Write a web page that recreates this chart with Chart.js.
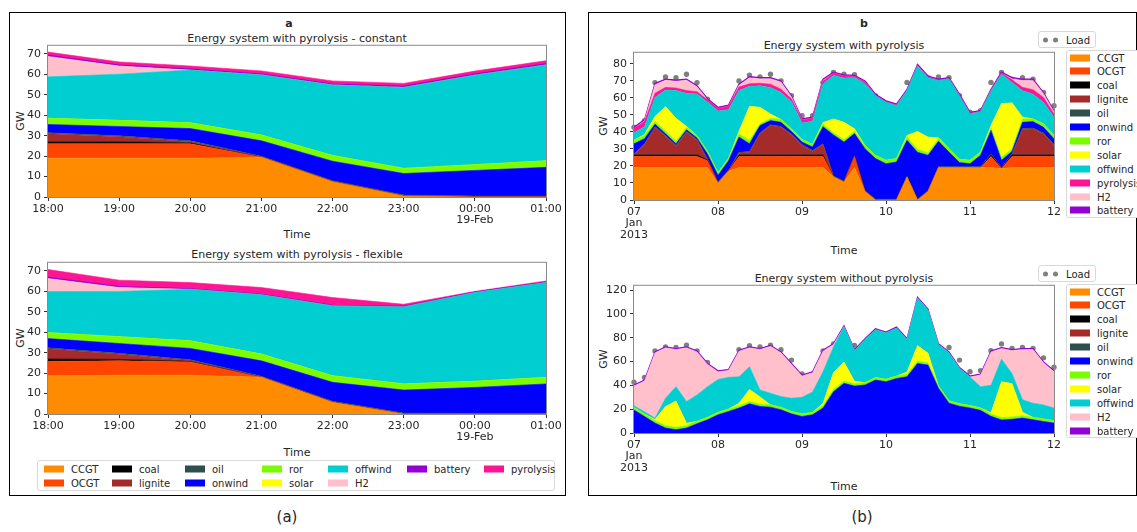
<!DOCTYPE html>
<html lang="en">
<head>
<meta charset="UTF-8">
<title>Energy system with pyrolysis</title>
<script src="https://cdn.jsdelivr.net/npm/chart.js"></script>
<style>
  body { margin:0; width:1137px; height:532px; background:#fff; overflow:hidden; position:relative;
         font-family:"DejaVu Sans", sans-serif; color:#262626; }
  .box { position:absolute; border:1.5px solid #000; box-sizing:border-box; }
  .txt { position:absolute; white-space:nowrap; transform:translate(-50%,-50%); font-size:11px; }
  .ylab { transform:translate(-50%,-50%) rotate(-90deg); }
  canvas { position:absolute; }
  .legend { position:absolute; border:1px solid #d9d9d9; border-radius:3px; background:#fff; font-size:10px; box-sizing:border-box; }
  .item { position:absolute; display:flex; align-items:center; transform:translateY(-50%); white-space:nowrap; }
  .sw { display:inline-block; width:20px; height:7px; margin-right:7px; }
  .dot { display:inline-block; width:5px; height:5px; border-radius:50%; background:#7f7f7f; margin-right:5px; }
</style>
</head>
<body>
<div class="box" style="left:9px;top:12px;width:557px;height:484px;"></div>
<div class="box" style="left:588px;top:12px;width:549px;height:484px;"></div>

<div class="txt" style="left:289px;top:23px;font-weight:bold;">a</div>
<div class="txt" style="left:297px;top:38px;">Energy system with pyrolysis - constant</div>
<div class="txt" style="left:297px;top:254px;">Energy system with pyrolysis - flexible</div>
<div class="txt ylab" style="left:20px;top:121px;">GW</div>
<div class="txt ylab" style="left:20px;top:338px;">GW</div>
<div class="txt" style="left:297px;top:234px;">Time</div>
<div class="txt" style="left:297px;top:452px;">Time</div>

<div class="txt" style="left:864px;top:23px;font-weight:bold;">b</div>
<div class="txt" style="left:844px;top:45px;">Energy system with pyrolysis</div>
<div class="txt" style="left:844px;top:278px;">Energy system without pyrolysis</div>
<div class="txt ylab" style="left:603px;top:126px;">GW</div>
<div class="txt ylab" style="left:603px;top:359px;">GW</div>
<div class="txt" style="left:844px;top:250px;">Time</div>
<div class="txt" style="left:844px;top:486px;">Time</div>

<div class="txt" style="left:287px;top:517px;font-size:15px;">(a)</div>
<div class="txt" style="left:862px;top:517px;font-size:15px;">(b)</div>

<canvas id="cConst"></canvas>
<canvas id="cFlex"></canvas>
<canvas id="cPyr"></canvas>
<canvas id="cNoPyr"></canvas>

<script>
// ---- (a) hourly, 18 Feb 18:00 -> 19 Feb 01:00
const hoursA = ['18:00', '19:00', '20:00', '21:00', '22:00', '23:00', ['00:00', '19-Feb'], '01:00'];

const cstCCGT      = [19, 19, 19, 19.5, 7.5, 0.5, 0, 0];
const cstOCGT      = [7, 7, 7, 0, 0, 0, 0, 0];
const cstCoal      = [1, 1, 0.5, 0, 0, 0, 0, 0];
const cstLignite   = [4, 2.5, 0.5, 0, 0, 0, 0, 0];
const cstOil       = [0.5, 0.5, 0.5, 0.5, 0.5, 0.5, 0.5, 0.5];
const cstOnwind    = [4, 4.5, 6, 7.5, 9.5, 10.5, 12.5, 14];
const cstRor       = [3, 3, 2.8, 2.8, 2.8, 2.5, 2.8, 3.2];
const cstSolar     = [0, 0, 0, 0, 0, 0, 0, 0];
const cstOffwind   = [20.3, 22.6, 25.8, 29.4, 34.5, 39.6, 43.8, 46.9];
const cstH2        = [10, 4, 0, 0, 0, 0, 0, 0];
const cstBattery   = [0.5, 0.5, 0.5, 0.5, 0.5, 0.5, 0.5, 0.5];
const cstPyrolysis = [1.6, 1.5, 1.5, 1.5, 1.5, 1.5, 1.5, 1.6];

const flxCCGT      = [18.7, 19, 19, 18, 5.7, 0, 0, 0];
const flxOCGT      = [7, 7, 6.5, 0, 0, 0, 0, 0];
const flxCoal      = [1.2, 0.7, 0.3, 0, 0, 0, 0, 0];
const flxLignite   = [5, 2.5, 0.3, 0, 0, 0, 0, 0];
const flxOil       = [0.5, 0.5, 0.5, 0.5, 0.5, 0.5, 0.3, 0.3];
const flxOnwind    = [4.5, 4.8, 5.5, 7.5, 9.3, 11.2, 12.7, 14.4];
const flxRor       = [2.9, 3.3, 3.7, 3.3, 3.2, 3, 3, 3.2];
const flxSolar     = [0, 0, 0, 0, 0, 0, 0, 0];
const flxOffwind   = [20.1, 22.2, 25.2, 29, 34.2, 37.7, 43.4, 46.4];
const flxH2        = [6.4, 1.9, 0, 0, 0, 0, 0, 0];
const flxBattery   = [0.6, 0.5, 0.3, 0.3, 0.3, 0.3, 0.2, 0.2];
const flxPyrolysis = [3.8, 3.1, 3, 3.3, 3.8, 1, 0.4, 0.6];

// ---- (b) 3-hourly, 07 Jan 2013 00:00 -> 12 Jan 00:00
const stepsB = Array.from({ length: 41 }, (_, i) => i * 3);
const dayTicks = [['07', 'Jan', '2013'], '08', '09', '10', '11', '12'];

const load = [42.7, 46.6, 68.9, 72.2, 71.8, 73.8, 68.9, 59.2, 49.5, 49.5,
  69.9, 73.2, 72.2, 73.8, 69.9, 61.2, 49.5, 49.5, 68.9, 74.8,
  73.8, 73.6, 68, 61.2, 48.5, 49, 69, 70.9, 71.8, 72.2,
  71.8, 61.2, 51.5, 52.4, 69, 74.8, 70.9, 71.8, 70.9, 63.1, 55.3];

const pyrCCGT = [19, 19, 19, 19, 19, 19, 19, 19, 10, 17,
  19, 19, 19, 19, 19, 19, 19, 19, 19, 13.6,
  10.5, 19, 5, 0, 0, 0, 13.5, 0, 5, 19,
  19, 19, 19, 19, 19, 18.5, 19, 19, 19, 19, 19];
const pyrOCGT = [6.5, 6.5, 6.5, 6.5, 6.5, 6.5, 6.5, 4, 0, 0,
  6.5, 6.5, 6.5, 6.5, 6.5, 6.5, 6.5, 6.5, 6.5, 0,
  0, 6.5, 0, 0, 0, 0, 0, 0, 0, 0,
  0, 0, 0, 0, 6.5, 0, 6.5, 6.5, 6.5, 6.5, 6.5];
const pyrCoal = [1, 1, 1, 1, 1, 1, 1, 0.5, 0, 0,
  1, 1, 1, 1, 1, 1, 1, 1, 1, 0,
  0, 0, 0, 0, 0, 0, 0, 0, 0, 0,
  0, 0, 0, 0, 1, 0, 1, 1, 1, 1, 1];
const pyrLignite = [0, 6, 16, 10.9, 5, 13.2, 8.5, 0, 0, 0,
  1, 1.5, 12.3, 17.2, 16.2, 11.7, 5.5, 2, 6, 0,
  0, 0, 0, 0, 0, 0, 0, 0, 0, 0,
  0, 0, 0, 0, 0, 0, 0, 15, 15.2, 12.3, 5.5];
const pyrOil = [0.5, 0.5, 0.5, 0.5, 0.5, 0.5, 0.5, 0.5, 0.5, 0.5,
  0.5, 0.5, 0.5, 0.5, 0.5, 0.5, 0.5, 0.5, 0.5, 0.5,
  0.5, 0.5, 0.5, 0.5, 0.5, 0.5, 0.5, 0.5, 0.5, 0.5,
  0.5, 0.5, 0.5, 0.5, 0.5, 0.5, 0.5, 0.5, 0.5, 0.5, 0.5];
const pyrOnwind = [6, 3, 1.5, 1, 1, 1, 0.9, 3, 4, 5.5,
  8.9, 4.5, 4.4, 2.4, 2.4, 1.5, 1.5, 2.1, 10, 24.1,
  23, 13, 24.6, 23.8, 20.8, 21.8, 21, 27.5, 20.7, 15,
  8.6, 2.5, 1.8, 6.7, 13.8, 4.3, 1.5, 3.6, 3.8, 3.4, 3.4];
const pyrRor = [2, 2, 1.5, 1.6, 1.5, 1.4, 1.3, 1.5, 1.5, 1.5,
  1.9, 2, 1, 1.4, 1.6, 1.5, 1.5, 1.6, 1.5, 1.2,
  1.3, 1.3, 1.9, 1.9, 2, 2, 1.9, 1.8, 1.6, 1.5,
  2, 1.9, 2, 1.9, 1.4, 1.8, 1.5, 2, 1.6, 2, 2];
const pyrSolar = [0, 0.5, 3, 14.3, 13.5, 0.6, 0, 0, 0, 0,
  1.5, 20, 9.7, 2.5, 0, 0, 0, 0, 1, 8.2,
  10.3, 1.5, 0, 0, 0, 0, 1, 10.4, 9.1, 0.5,
  0, 0, 0, 0, 1.5, 31.5, 27, 1, 0, 0, 0];
const pyrOffwind = [4.5, 4.5, 11.2, 9.7, 16.2, 19.4, 24.5, 29, 36.2, 28.5,
  24, 11.7, 12.6, 15.5, 15.9, 16, 9.7, 13.5, 22.7, 25.5,
  26, 30, 36.3, 35, 34, 31, 26.4, 38.4, 34.9, 33.5,
  41, 37.2, 27.2, 23.7, 20.2, 17.2, 12, 15.5, 14.5, 12.6, 10.6];
const pyrPyrolysis = [2.5, 3, 2.5, 1.6, 1.5, 1.6, 1.4, 1.3, 1.5, 2,
  2, 1.5, 1.5, 2, 1.9, 1.5, 1.7, 1.8, 1.5, 1.3,
  1.1, 0.7, 0.9, 0.2, 0.2, 0.3, 0, 0.3, 0.3, 0.2,
  0, 0.3, 0.3, 0, 0.4, 0.6, 1.5, 2, 2.6, 2.9, 2];
const pyrH2 = [0, 0.5, 5, 4.2, 4, 6.1, 2.8, 0, 0, 0,
  1, 3.5, 2.6, 3.1, 4.2, 1.3, 0, 0, 0.5, 0,
  0, 0, 0, 0, 0, 0, 0, 0, 0, 0,
  0, 0, 0, 0, 0, 0, 0.6, 4.1, 5.5, 2.2, 1.2];
const pyrBattery = [0.7, 0.7, 0.7, 0.7, 0.7, 0.7, 0.7, 0.7, 0.7, 0.7,
  0.7, 0.7, 0.7, 0.7, 0.7, 0.7, 0.7, 0.7, 0.7, 0.7,
  0.7, 0.7, 0.7, 0.7, 0.7, 0.7, 0.7, 0.7, 0.7, 0.7,
  0.7, 0.7, 0.7, 0.7, 0.7, 0.7, 0.7, 0.7, 0.7, 0.7, 0.7];

const nopOnwind = [19.4, 13.9, 8.3, 4.2, 2.8, 4.2, 7.8, 11.1, 15.3, 18.1,
  20.9, 24.5, 22.3, 21.7, 19.5, 16.1, 13.9, 15.3, 20.9, 34.7,
  41.7, 39.4, 40.3, 44.5, 43.1, 45.8, 47.2, 58.4, 57, 37.5,
  25, 22.5, 21, 19, 14, 11, 11.5, 12.5, 11.1, 9.7, 8.3];
const nopRor = [2, 2, 2, 2, 2, 2, 2, 2, 2, 2,
  2, 2, 2, 2, 2, 2, 2, 2, 2, 2,
  2, 2, 2, 2, 2, 2, 2, 2, 2, 2,
  2, 2, 2, 2, 2, 2, 2, 2, 2, 2, 2];
const nopSolar = [0, 0, 1, 16, 22, 2, 0, 0, 0, 0,
  2, 10, 6, 0, 0, 0, 0, 0, 2, 14,
  16, 2, 0, 0, 0, 0, 2, 13, 8, 0,
  0, 0, 0, 0, 1, 30, 28, 3, 0, 0, 0];
const nopOffwind = [1.4, 2, 1.2, 7, 12.1, 18.2, 22.1, 25.8, 27.7, 26.6,
  22.3, 19.1, 5.8, 9.7, 9.1, 11.1, 14.1, 17.1, 26.5, 21.6,
  29.5, 25.8, 36.1, 40.2, 38.8, 40.3, 27.2, 39.8, 36.2, 34.7,
  40.3, 29.7, 24, 17.9, 23, 19, 8.5, 10.5, 11.9, 11.9, 10.6];
const nopH2 = [16.7, 25.8, 54.8, 42.3, 31.2, 45.1, 36.2, 18.7, 6.4, 5.8,
  21.5, 15.9, 34, 39.4, 36.7, 28.4, 17.8, 16.2, 17.3, 1.9,
  0, 0, 0, 0, 0, 0, 0, 0, 0, 0,
  0, 0, 0, 9.8, 28.1, 8.9, 19.2, 42.1, 45.1, 35.3, 30.5];
const nopBattery = [0.8, 0.8, 0.8, 0.8, 0.8, 0.8, 0.8, 0.8, 0.8, 0.8,
  0.8, 0.8, 0.8, 0.8, 0.8, 0.8, 0.8, 0.8, 0.8, 0.8,
  0.8, 0.8, 0.8, 0.8, 0.8, 0.8, 0.8, 0.8, 0.8, 0.8,
  0.8, 0.8, 0.8, 0.8, 0.8, 0.8, 0.8, 0.8, 0.8, 0.8, 0.8];

const colors = {
  CCGT: '#ff8c00', OCGT: '#ff4500', coal: '#000000', lignite: '#a52a2a', oil: '#2f4f4f',
  onwind: '#0000ff', ror: '#7cfc00', solar: '#ffff00', offwind: '#00ced1',
  H2: '#ffc0cb', battery: '#9400d3', pyrolysis: '#ff1493'
};

// canvas margins around each plot area
const Y_W = 40, PAD_T = 8, PAD_R = 26, X_H = 46;
const FONT = { family: 'DejaVu Sans', size: 11, lineHeight: 1.05 };

const frame = {
  id: 'frame',
  afterDatasetsDraw(chart) {
    const a = chart.chartArea, c = chart.ctx;
    c.save();
    c.strokeStyle = '#8a8a8a';
    c.lineWidth = 1;
    c.strokeRect(a.left - 0.5, a.top - 0.5, a.right - a.left + 1, a.bottom - a.top + 1);
    c.restore();
  }
};

function drawStack(id, plot, labels, series, yMax, yStep, extra) {
  extra = extra || {};
  const cv = document.getElementById(id);
  cv.width = plot.r - plot.l + Y_W + PAD_R;
  cv.height = PAD_T + plot.b - plot.t + X_H;
  cv.style.left = (plot.l - Y_W) + 'px';
  cv.style.top = (plot.t - PAD_T) + 'px';

  const datasets = series.map(([name, data], i) => ({
    label: name, data,
    backgroundColor: colors[name], borderColor: colors[name],
    borderWidth: name === 'battery' ? 1.2 : 0.6,
    pointRadius: 0, tension: 0,
    fill: i ? '-1' : 'origin'
  }));
  if (extra.load) {
    datasets.push({
      label: 'Load', data: extra.load, stack: 'load', showLine: false, fill: false,
      pointRadius: 2.7, pointBackgroundColor: '#7f7f7f', pointBorderWidth: 0
    });
  }

  const ticksGrid = { drawOnChartArea: false, drawTicks: true, tickLength: 4, tickColor: '#333', color: '#333' };

  new Chart(cv, {
    type: 'line',
    data: { labels, datasets },
    plugins: [frame],
    options: {
      responsive: false, animation: false, events: [],
      layout: { padding: { top: PAD_T, right: PAD_R, left: 0, bottom: 0 } },
      plugins: { legend: { display: false }, tooltip: { enabled: false } },
      scales: {
        x: {
          type: 'category', offset: false,
          grid: ticksGrid, border: { display: false },
          ticks: {
            autoSkip: false, maxRotation: 0, padding: 2, color: '#262626', font: FONT,
            callback: extra.tickLabel || function (v) { return this.getLabelForValue(v); }
          },
          afterBuildTicks: s => { if (extra.tickEvery) s.ticks = s.ticks.filter(t => t.value % extra.tickEvery === 0); },
          afterFit: s => { s.height = X_H; }
        },
        y: {
          stacked: true, min: 0, max: yMax,
          grid: ticksGrid, border: { display: false },
          ticks: { stepSize: yStep, padding: 3, color: '#262626', font: FONT },
          // keep only the round ticks (0, step, 2*step ...) below the axis top
          afterBuildTicks: s => {
            const t = [];
            for (let v = 0; v <= yMax; v += yStep) t.push({ value: v });
            s.ticks = t;
          },
          afterFit: s => { s.width = Y_W; }
        }
      }
    }
  });
}

drawStack('cConst', { l: 48, t: 45, r: 546, b: 197 }, hoursA, [
  ['CCGT', cstCCGT], ['OCGT', cstOCGT], ['coal', cstCoal], ['lignite', cstLignite], ['oil', cstOil],
  ['onwind', cstOnwind], ['ror', cstRor], ['solar', cstSolar], ['offwind', cstOffwind],
  ['H2', cstH2], ['battery', cstBattery], ['pyrolysis', cstPyrolysis]
], 74, 10);

drawStack('cFlex', { l: 48, t: 262, r: 546, b: 414 }, hoursA, [
  ['CCGT', flxCCGT], ['OCGT', flxOCGT], ['coal', flxCoal], ['lignite', flxLignite], ['oil', flxOil],
  ['onwind', flxOnwind], ['ror', flxRor], ['solar', flxSolar], ['offwind', flxOffwind],
  ['H2', flxH2], ['battery', flxBattery], ['pyrolysis', flxPyrolysis]
], 74, 10);

const dayLabel = v => dayTicks[v / 8];

drawStack('cPyr', { l: 634, t: 52, r: 1054, b: 200 }, stepsB, [
  ['CCGT', pyrCCGT], ['OCGT', pyrOCGT], ['coal', pyrCoal], ['lignite', pyrLignite], ['oil', pyrOil],
  ['onwind', pyrOnwind], ['ror', pyrRor], ['solar', pyrSolar], ['offwind', pyrOffwind],
  ['pyrolysis', pyrPyrolysis], ['H2', pyrH2], ['battery', pyrBattery]
], 86.4, 10, { load, tickEvery: 8, tickLabel: dayLabel });

drawStack('cNoPyr', { l: 634, t: 285, r: 1054, b: 433 }, stepsB, [
  ['onwind', nopOnwind], ['ror', nopRor], ['solar', nopSolar], ['offwind', nopOffwind],
  ['H2', nopH2], ['battery', nopBattery]
], 123.6, 20, { load, tickEvery: 8, tickLabel: dayLabel });

// ---- legends (html)
function legendBox(left, top, width, height) {
  const d = document.createElement('div');
  d.className = 'legend';
  Object.assign(d.style, { left: left + 'px', top: top + 'px', width: width + 'px', height: height + 'px' });
  document.body.appendChild(d);
  return d;
}
function legendItem(box, x, y, name) {
  const it = document.createElement('div');
  it.className = 'item';
  it.style.left = x + 'px';
  it.style.top = y + 'px';
  it.innerHTML = '<span class="sw" style="background:' + colors[name] + '"></span>' + name;
  box.appendChild(it);
}

const legendA = [['CCGT', 'OCGT'], ['coal', 'lignite'], ['oil', 'onwind'], ['ror', 'solar'],
  ['offwind', 'H2'], ['battery'], ['pyrolysis']];
const colX = [43, 111, 184, 261, 327, 406, 483];
const boxA = legendBox(37, 460, 518, 31);
legendA.forEach((col, ci) => col.forEach((name, ri) => legendItem(boxA, colX[ci] - 37, 8 + ri * 14, name)));

const legendTop = ['CCGT', 'OCGT', 'coal', 'lignite', 'oil', 'onwind', 'ror', 'solar', 'offwind', 'pyrolysis', 'H2', 'battery'];
const legendBottom = ['CCGT', 'OCGT', 'coal', 'lignite', 'oil', 'onwind', 'ror', 'solar', 'offwind', 'H2', 'battery'];

function loadBox(top) {
  const b = legendBox(1038, top, 58, 17);
  const it = document.createElement('div');
  it.className = 'item';
  it.style.left = '4px';
  it.style.top = '8px';
  it.innerHTML = '<span class="dot"></span><span class="dot" style="margin-right:8px"></span>Load';
  b.appendChild(it);
}
loadBox(31);
loadBox(265);

const boxT = legendBox(1066, 50, 80, 168);
legendTop.forEach((name, k) => legendItem(boxT, 3, 6.5 + k * 13.9, name));
const boxB = legendBox(1066, 284, 80, 154);
legendBottom.forEach((name, k) => legendItem(boxB, 3, 6.5 + k * 13.9, name));
</script>
</body>
</html>
